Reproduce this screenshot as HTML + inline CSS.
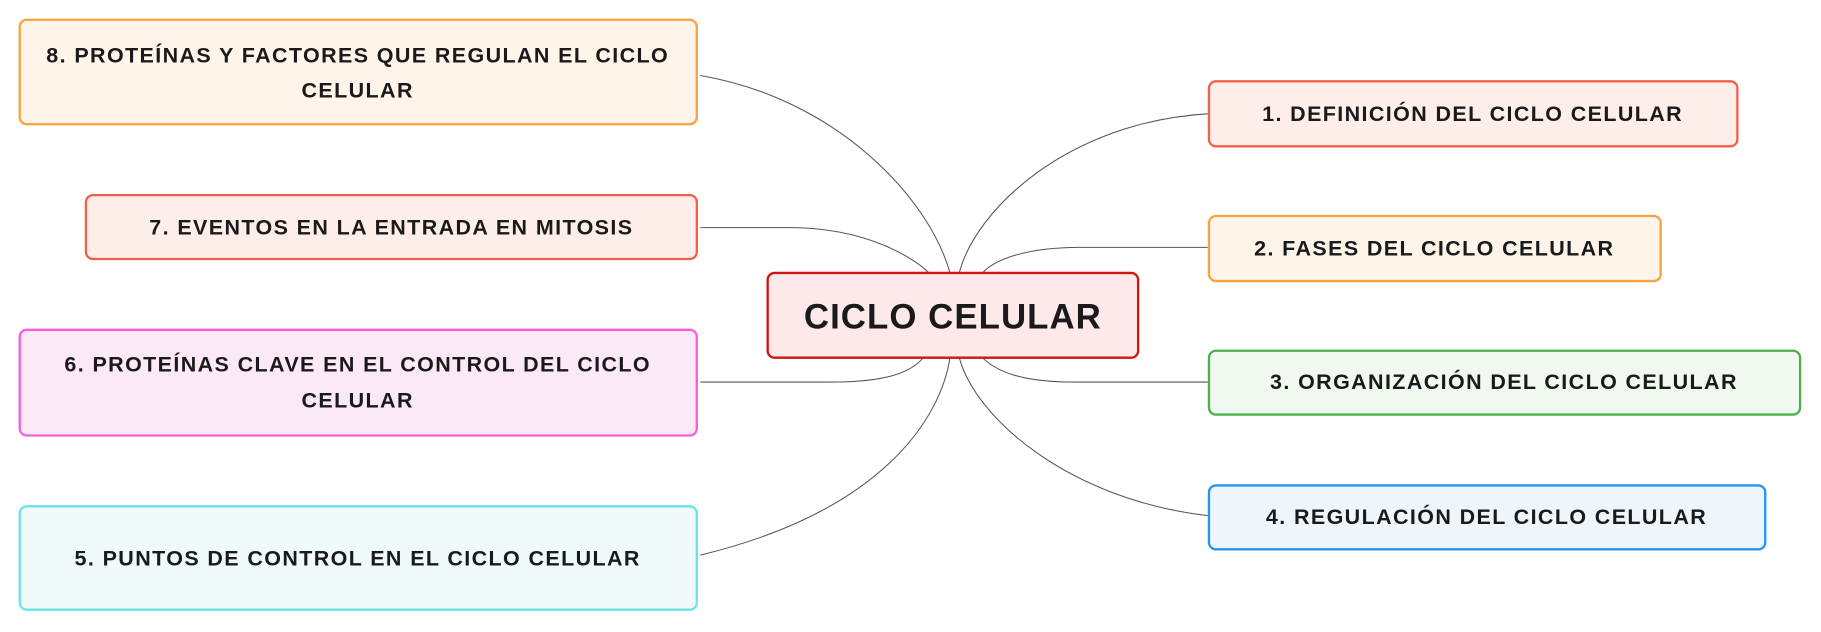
<!DOCTYPE html>
<html><head><meta charset="utf-8"><style>
html,body{margin:0;padding:0;background:#fff;}
svg{display:block;}
text{font-family:"Liberation Sans",sans-serif;font-weight:bold;fill:#1a1a1a;}
</style></head><body>
<svg width="1821" height="632" viewBox="0 0 1568 544.2" preserveAspectRatio="none">
<g fill="none" stroke="#555" stroke-width="0.9">
<path d="M603,65 C720,85 800,170 818,235"/>
<path d="M603,196 L680,196 C750,196 790,225 800,235"/>
<path d="M1040,98 C920,105 840,180 826,235"/>
<path d="M1040,213 L930,213 C880,213 855,225 846,235"/>
<path d="M603,329 L715,329 C765,329 785,320 795,308"/>
<path d="M603,478 C760,440 810,360 818,308"/>
<path d="M1040,329 L925,329 C880,329 858,320 846,308"/>
<path d="M1040,444 C920,430 840,360 826,308"/>
</g>
<g stroke-width="2">
<rect x="17" y="17" width="583" height="90" rx="6" fill="#fef4ea" stroke="#f9a23f"/>
<rect x="74" y="168" width="526" height="55" rx="6" fill="#fdeeea" stroke="#f2604a"/>
<rect x="17" y="284" width="583" height="91" rx="6" fill="#fbe9f7" stroke="#f55fd9"/>
<rect x="17" y="436" width="583" height="89" rx="6" fill="#effbfb" stroke="#6be3e6"/>
<rect x="661" y="235" width="319" height="73" rx="6" fill="#fde9ea" stroke="#d2140f"/>
<rect x="1041" y="70" width="455" height="56" rx="6" fill="#fdeeea" stroke="#f2604a"/>
<rect x="1041" y="186" width="389" height="56" rx="6" fill="#fef5ea" stroke="#f9a23f"/>
<rect x="1041" y="302" width="509" height="55" rx="6" fill="#f0f8f0" stroke="#4caf50"/>
<rect x="1041" y="418" width="479" height="55" rx="6" fill="#eef6fc" stroke="#2196f3"/>
</g>
<g font-size="18.5" letter-spacing="1.2" text-anchor="middle">
<text x="308" y="54">8. PROTEÍNAS Y FACTORES QUE REGULAN EL CICLO</text>
<text x="308" y="84">CELULAR</text>
<text x="337" y="202">7. EVENTOS EN LA ENTRADA EN MITOSIS</text>
<text x="308" y="320">6. PROTEÍNAS CLAVE EN EL CONTROL DEL CICLO</text>
<text x="308" y="351">CELULAR</text>
<text x="308" y="487">5. PUNTOS DE CONTROL EN EL CICLO CELULAR</text>
<text x="820.5" y="283" font-size="30" letter-spacing="0.9">CICLO CELULAR</text>
<text x="1268" y="104">1. DEFINICIÓN DEL CICLO CELULAR</text>
<text x="1235" y="220">2. FASES DEL CICLO CELULAR</text>
<text x="1295" y="335">3. ORGANIZACIÓN DEL CICLO CELULAR</text>
<text x="1280" y="451">4. REGULACIÓN DEL CICLO CELULAR</text>
</g>
</svg>
</body></html>
